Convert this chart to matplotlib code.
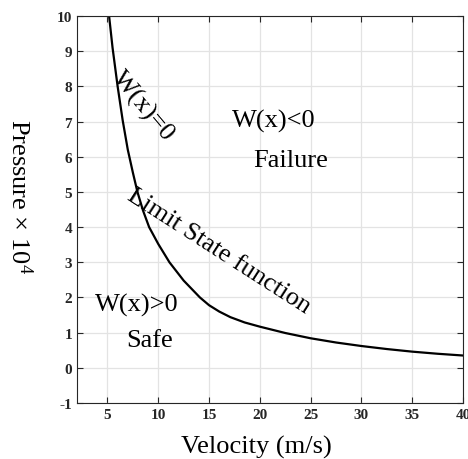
import matplotlib
matplotlib.use('Agg')
import matplotlib.pyplot as plt

# Limit state curve
velocity = [5.16, 5.5, 6.0, 6.5, 7.0, 7.5, 7.95, 8.5, 9.1, 10.0, 11.1, 12.5, 14.1,
            15.0, 16.0, 17.1, 18.5, 20.0, 22.5, 25.0, 27.5, 30.0, 32.5, 35.0, 37.5, 40.0]
pressure = [10.0, 9.1, 8.0, 7.03, 6.2, 5.55, 5.0, 4.47, 4.0, 3.52, 3.0, 2.48, 2.0,
            1.78, 1.60, 1.44, 1.29, 1.17, 0.99, 0.84, 0.72, 0.62, 0.534, 0.46, 0.40, 0.35]

x_ticks = [5, 10, 15, 20, 25, 30, 35, 40]
y_ticks = [-1, 0, 1, 2, 3, 4, 5, 6, 7, 8, 9, 10]

plt.rcParams['font.family'] = ['Liberation Serif', 'DejaVu Serif']
plt.rcParams['mathtext.fontset'] = 'custom'
plt.rcParams['mathtext.rm'] = 'Liberation Serif'
plt.rcParams['mathtext.it'] = 'Liberation Serif:italic'
plt.rcParams['axes.unicode_minus'] = False

fig = plt.figure(figsize=(4.68, 4.60), dpi=100)
ax = fig.add_axes([0.1645, 0.1217, 0.825, 0.8413])

ax.plot(velocity, pressure, color='black', linewidth=1.6)

ax.set_xlim(2, 40)
ax.set_ylim(-1, 10)
ax.set_xticks(x_ticks)
ax.set_yticks(y_ticks)
ax.grid(True, color='#e3e3e3', linewidth=0.9)
ax.set_axisbelow(True)

ax.tick_params(direction='in', top=True, right=True, length=4, width=0.8,
               colors='#262626', labelsize=11)
for lab in ax.get_xticklabels() + ax.get_yticklabels():
    lab.set_fontweight('bold')
for sp in ax.spines.values():
    sp.set_color('#262626')
    sp.set_linewidth(0.8)

ax.set_xlabel('Velocity (m/s)', fontsize=19, va='center')
ax.xaxis.set_label_coords(0.464, -0.111)
ax.set_ylabel('Pressure \u00d7 10$^4$', fontsize=19, rotation=-90,
              va='center', ha='center')
ax.yaxis.set_label_coords(-0.148, 0.537)

# annotations
ax.text(8.5, 7.44, 'W(x)=0', fontsize=19, rotation=-50, rotation_mode='anchor',
        ha='center', va='center')
ax.text(16.0, 3.35, 'Limit State function', fontsize=19, rotation=-32.7,
        rotation_mode='anchor', ha='center', va='center')
ax.text(21.4, 7.02, 'W(x)<0', fontsize=19, ha='center', va='center')
ax.text(23.0, 5.9, 'Failure', fontsize=19, ha='center', va='center')
ax.text(7.92, 1.8, 'W(x)>0', fontsize=19, ha='center', va='center')
ax.text(9.16, 0.8, 'Safe', fontsize=19, ha='center', va='center')

fig.savefig('out.png', dpi=100)
